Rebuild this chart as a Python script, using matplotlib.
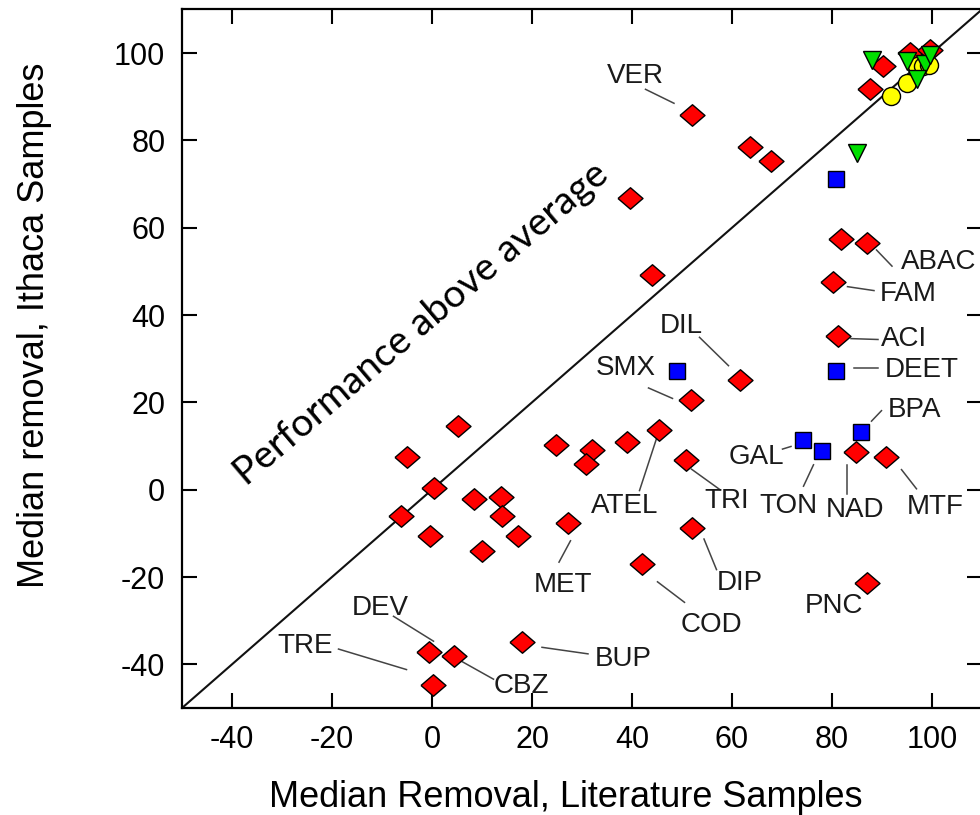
import matplotlib.pyplot as plt
import numpy as np

# red diamonds
red_x = [51.9, 63.6, 67.8, 39.6, 44.0, 81.8, 86.9, 80.2, 81.2, 61.5, 51.8,
         5.2, -5.0, 0.4, -6.2, -0.4, 8.3, 13.8, 13.9, 17.1, 10.0,
         24.8, 32.0, 30.7, 39.0, 45.3, 50.8, 27.1, 51.9, 41.9, 18.0,
         -0.6, 4.4, 0.1, 84.8, 90.7, 86.9, 87.6, 90.2, 95.6, 99.6]
red_y = [85.7, 78.5, 75.2, 66.8, 49.1, 57.5, 56.5, 47.5, 35.2, 25.1, 20.5,
         14.6, 7.4, 0.5, -6.1, -10.5, -2.2, -1.6, -6.1, -10.5, -14.0,
         10.2, 9.1, 5.8, 11.0, 13.6, 6.7, -7.7, -8.7, -17.1, -34.8,
         -37.1, -38.0, -44.8, 8.6, 7.4, -21.3, 91.8, 97.1, 100.0, 100.6]

# blue squares
blue_x = [80.7, 48.9, 80.7, 85.8, 74.1, 77.9]
blue_y = [71.2, 27.2, 27.2, 13.1, 11.3, 8.9]

# yellow circles
yellow_x = [91.7, 95.0, 97.0, 98.2, 99.4]
yellow_y = [90.1, 93.2, 97.1, 97.1, 97.3]

# green triangles
green_x = [85.0, 88.0, 95.0, 98.5, 99.6, 97.0]
green_y = [77.0, 98.3, 98.2, 97.6, 99.6, 94.0]

# label text
labels = ["VER", "ABAC", "FAM", "ACI", "DEET", "BPA", "DIL", "SMX", "GAL",
          "TON", "NAD", "MTF", "TRI", "ATEL", "DIP", "COD", "PNC", "MET",
          "DEV", "TRE", "CBZ", "BUP"]

# label layout: text centre, leader line start/end (None = no line)
label_layout = [
    ((40.7, 94.8), (42.7, 91.7), (48.4, 88.5)),
    ((101.3, 52.1), (88.9, 54.9), (92.0, 51.2)),
    ((95.2, 44.9), (83.1, 46.5), (88.4, 45.6)),
    ((94.3, 34.4), (83.8, 34.6), (89.2, 34.4)),
    ((98.0, 27.5), (84.3, 27.8), (89.2, 27.8)),
    ((96.5, 18.3), (87.9, 15.7), (89.9, 18.1)),
    ((49.9, 37.5), (53.5, 34.9), (59.3, 28.4)),
    ((38.7, 27.8), (43.3, 23.3), (48.1, 20.9)),
    ((64.9, 7.6), (70.1, 9.3), (71.8, 9.9)),
    ((71.3, -3.7), (74.3, 0.8), (76.3, 5.7)),
    ((84.6, -4.6), (82.9, -1.1), (82.9, 5.7)),
    ((100.6, -3.9), (96.9, 0.2), (93.9, 4.6)),
    ((58.9, -2.7), (57.6, 0.0), (51.9, 4.7)),
    ((38.6, -3.8), (41.5, -0.2), (45.3, 13.1)),
    ((61.6, -21.4), (56.9, -18.3), (54.4, -11.3)),
    ((55.9, -30.9), (50.5, -25.8), (45.1, -21.1)),
    ((80.3, -26.7), None, None),
    ((26.1, -21.9), (25.4, -16.6), (27.7, -11.7)),
    ((-10.4, -27.1), (-7.7, -29.0), (0.3, -34.7)),
    ((-25.4, -35.9), (-18.7, -36.5), (-5.1, -41.2)),
    ((17.9, -44.9), (5.9, -39.3), (12.3, -43.4)),
    ((38.2, -38.7), (22.0, -36.1), (31.2, -37.6)),
]

x_ticks = [-40, -20, 0, 20, 40, 60, 80, 100]
y_ticks = [-40, -20, 0, 20, 40, 60, 80, 100]

plt.rcParams['font.family'] = ['Liberation Sans', 'DejaVu Sans']
plt.rcParams['axes.unicode_minus'] = False

fig = plt.figure(figsize=(9.8, 8.15), dpi=100)
ax = fig.add_axes([182 / 980, 107 / 815, 800 / 980, 698.6 / 815])
ax.set_xlim(-50, 110)
ax.set_ylim(-50, 110)

# 1:1 line
ax.plot([-50, 110], [-50, 110], color='#111111', lw=1.5, zorder=2)

# leader lines
for (tx, ty), p0, p1 in label_layout:
    if p0 is not None:
        ax.plot([p0[0], p1[0]], [p0[1], p1[1]], color='#444444', lw=1.1, zorder=1)
for name, ((tx, ty), p0, p1) in zip(labels, label_layout):
    ax.text(tx, ty, name, fontsize=20, ha='center', va='center', color='#1a1a1a')

diamond = [(-1, 0), (0, 0.86), (1, 0), (0, -0.86), (-1, 0)]
ax.plot(red_x, red_y, ls='none', marker=diamond, ms=18, mfc='#ff0000',
        mec='black', mew=1.0, zorder=4)
ax.plot(blue_x, blue_y, ls='none', marker='s', ms=12, mfc='#0000ff',
        mec='black', mew=1.0, zorder=4)
ax.plot(yellow_x, yellow_y, ls='none', marker='o', ms=13, mfc='#ffff00',
        mec='black', mew=1.0, zorder=4)
ax.plot(green_x, green_y, ls='none', marker='v', ms=13.5, mfc='#00e000',
        mec='black', mew=1.0, zorder=5)

ax.text(-2.2, 38.0, "Performance above average", family='Lato', fontsize=28,
        rotation=40.3, rotation_mode='anchor', ha='center', va='center',
        color='black')

ax.set_xticks(x_ticks)
ax.set_yticks(y_ticks)
ax.tick_params(direction='in', length=11, width=1.5, top=True, right=True,
               labelsize=22, pad=12)
for s in ax.spines.values():
    s.set_linewidth(1.6)

ax.set_xlabel("Median Removal, Literature Samples", fontsize=26)
ax.set_ylabel("Median removal, Ithaca Samples", fontsize=26)
ax.xaxis.set_label_coords(0.48, -0.103)
ax.yaxis.set_label_coords(-0.163, 0.548)

fig.savefig("out.png", dpi=100)
